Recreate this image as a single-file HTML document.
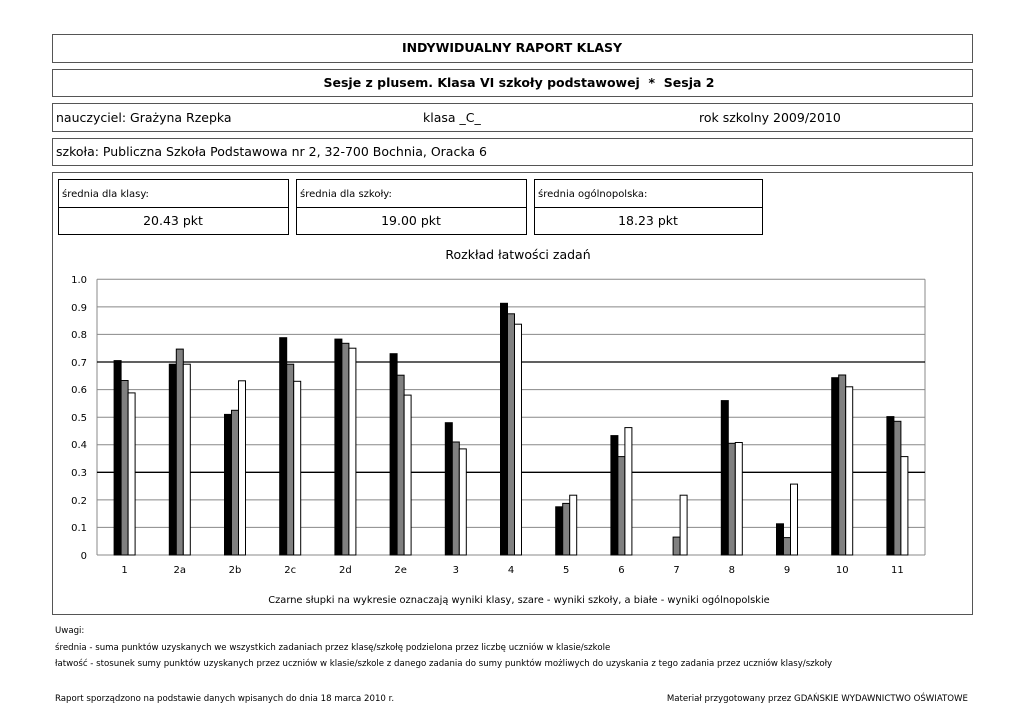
<!DOCTYPE html>
<html><head><meta charset="utf-8"><style>
body{margin:0;background:#fff;}
svg{display:block;font-family:"DejaVu Sans","Liberation Sans",sans-serif;}
</style></head><body>
<svg width="1024" height="725" viewBox="0 0 1024 725" xmlns="http://www.w3.org/2000/svg">
<g fill="none" stroke="#555" stroke-width="1">
<rect x="52.5" y="34.5" width="920" height="28"/>
<rect x="52.5" y="69.5" width="920" height="27"/>
<rect x="52.5" y="103.5" width="920" height="28"/>
<rect x="52.5" y="138.5" width="920" height="27"/>
<rect x="52.5" y="172.5" width="920" height="442"/>
</g>
<g fill="none" stroke="#000" stroke-width="1">
<rect x="58.5" y="179.5" width="230" height="55"/><line x1="58" y1="207.5" x2="289" y2="207.5"/>
<rect x="296.5" y="179.5" width="230" height="55"/><line x1="296" y1="207.5" x2="527" y2="207.5"/>
<rect x="534.5" y="179.5" width="228" height="55"/><line x1="534" y1="207.5" x2="763" y2="207.5"/>
</g>
<g font-size="12.5" fill="#000">
<text x="512" y="52" text-anchor="middle" font-weight="bold">INDYWIDUALNY RAPORT KLASY</text>
<text x="519" y="87" text-anchor="middle" font-weight="bold">Sesje z plusem. Klasa VI szkoły podstawowej &#160;*&#160; Sesja 2</text>
<text x="56" y="122">nauczyciel: Grażyna Rzepka</text>
<text x="423" y="122">klasa _C_</text>
<text x="699" y="122">rok szkolny 2009/2010</text>
<text x="56" y="156">szkoła: Publiczna Szkoła Podstawowa nr 2, 32-700 Bochnia, Oracka 6</text>
<text x="173" y="225" text-anchor="middle">20.43 pkt</text>
<text x="411" y="225" text-anchor="middle">19.00 pkt</text>
<text x="648" y="225" text-anchor="middle">18.23 pkt</text>
<text x="518" y="259" text-anchor="middle">Rozkład łatwości zadań</text>
</g>
<g font-size="10" fill="#000">
<text x="62" y="197">średnia dla klasy:</text>
<text x="300" y="197">średnia dla szkoły:</text>
<text x="538" y="197">średnia ogólnopolska:</text>
</g>
<g stroke="#888" stroke-width="1">
<line x1="97" y1="527.4" x2="925" y2="527.4"/><line x1="97" y1="499.9" x2="925" y2="499.9"/>
<line x1="97" y1="444.7" x2="925" y2="444.7"/><line x1="97" y1="417.2" x2="925" y2="417.2"/>
<line x1="97" y1="389.6" x2="925" y2="389.6"/><line x1="97" y1="334.4" x2="925" y2="334.4"/>
<line x1="97" y1="306.9" x2="925" y2="306.9"/><line x1="97" y1="279.3" x2="925" y2="279.3"/>
<line x1="925" y1="279.3" x2="925" y2="555"/><line x1="97" y1="279.3" x2="97" y2="555"/>
<line x1="97" y1="555" x2="925" y2="555"/>
</g>
<g stroke="#000" stroke-width="1.3">
<line x1="97" y1="472.3" x2="925" y2="472.3"/><line x1="97" y1="362" x2="925" y2="362"/>
</g>
<g font-size="10" fill="#000" text-anchor="end">
<text x="87" y="559">0</text><text x="87" y="531">0.1</text><text x="87" y="504">0.2</text>
<text x="87" y="476">0.3</text><text x="87" y="448">0.4</text><text x="87" y="421">0.5</text>
<text x="87" y="393">0.6</text><text x="87" y="366">0.7</text><text x="87" y="338">0.8</text>
<text x="87" y="311">0.9</text><text x="87" y="283">1.0</text>
</g>
<g font-size="10" fill="#000" text-anchor="middle">
<text x="124.6" y="573">1</text><text x="179.8" y="573">2a</text><text x="235" y="573">2b</text>
<text x="290.2" y="573">2c</text><text x="345.4" y="573">2d</text><text x="400.6" y="573">2e</text>
<text x="455.8" y="573">3</text><text x="511" y="573">4</text><text x="566.2" y="573">5</text>
<text x="621.4" y="573">6</text><text x="676.6" y="573">7</text><text x="731.8" y="573">8</text>
<text x="787" y="573">9</text><text x="842.2" y="573">10</text><text x="897.4" y="573">11</text>
<text x="519" y="603" font-size="9.85">Czarne słupki na wykresie oznaczają wyniki klasy, szare - wyniki szkoły, a białe - wyniki ogólnopolskie</text>
</g>
<g stroke="#000" stroke-width="1">
<g fill="#000">
<rect x="114.1" y="360.6" width="7" height="194.4"/><rect x="169.3" y="364.2" width="7" height="190.8"/>
<rect x="224.5" y="414.4" width="7" height="140.6"/><rect x="279.7" y="337.7" width="7" height="217.3"/>
<rect x="334.9" y="339.1" width="7" height="215.9"/><rect x="390.1" y="353.7" width="7" height="201.3"/>
<rect x="445.3" y="422.7" width="7" height="132.3"/><rect x="500.5" y="303.3" width="7" height="251.7"/>
<rect x="555.7" y="506.8" width="7" height="48.2"/><rect x="610.9" y="435.6" width="7" height="119.4"/>
<rect x="721.3" y="400.6" width="7" height="154.4"/><rect x="776.5" y="523.8" width="7" height="31.2"/>
<rect x="831.7" y="377.7" width="7" height="177.3"/><rect x="886.9" y="416.6" width="7" height="138.4"/>
</g>
<g fill="#808080">
<rect x="121.1" y="380.5" width="7" height="174.5"/><rect x="176.3" y="349.1" width="7" height="205.9"/>
<rect x="231.5" y="410.3" width="7" height="144.7"/><rect x="286.7" y="364.2" width="7" height="190.8"/>
<rect x="341.9" y="343.3" width="7" height="211.7"/><rect x="397.1" y="375.2" width="7" height="179.8"/>
<rect x="452.3" y="442" width="7" height="113"/><rect x="507.5" y="313.8" width="7" height="241.2"/>
<rect x="562.7" y="503.4" width="7" height="51.6"/><rect x="617.9" y="456.6" width="7" height="98.4"/>
<rect x="673.1" y="537.1" width="7" height="17.9"/><rect x="728.3" y="443.3" width="7" height="111.7"/>
<rect x="783.5" y="537.6" width="7" height="17.4"/><rect x="838.7" y="375" width="7" height="180"/>
<rect x="893.9" y="421.3" width="7" height="133.7"/>
</g>
<g fill="#fff">
<rect x="128.1" y="392.9" width="7" height="162.1"/><rect x="183.3" y="364.2" width="7" height="190.8"/>
<rect x="238.5" y="380.8" width="7" height="174.2"/><rect x="293.7" y="381.3" width="7" height="173.7"/>
<rect x="348.9" y="348.2" width="7" height="206.8"/><rect x="404.1" y="395.1" width="7" height="159.9"/>
<rect x="459.3" y="448.9" width="7" height="106.1"/><rect x="514.5" y="324.2" width="7" height="230.8"/>
<rect x="569.7" y="495.2" width="7" height="59.8"/><rect x="624.9" y="427.6" width="7" height="127.4"/>
<rect x="680.1" y="495.2" width="7" height="59.8"/><rect x="735.3" y="442.5" width="7" height="112.5"/>
<rect x="790.5" y="484.1" width="7" height="70.9"/><rect x="845.7" y="386.8" width="7" height="168.2"/>
<rect x="900.9" y="456.6" width="7" height="98.4"/>
</g>
</g>
<g font-size="8.6" fill="#000">
<text x="55" y="633">Uwagi:</text>
<text x="55" y="650">średnia - suma punktów uzyskanych we wszystkich zadaniach przez klasę/szkołę podzielona przez liczbę uczniów w klasie/szkole</text>
<text x="55" y="666">łatwość - stosunek sumy punktów uzyskanych przez uczniów w klasie/szkole z danego zadania do sumy punktów możliwych do uzyskania z tego zadania przez uczniów klasy/szkoły</text>
<text x="55" y="701">Raport sporządzono na podstawie danych wpisanych do dnia 18 marca 2010 r.</text>
<text x="968" y="701" text-anchor="end">Materiał przygotowany przez GDAŃSKIE WYDAWNICTWO OŚWIATOWE</text>
</g>
</svg>
</body></html>
